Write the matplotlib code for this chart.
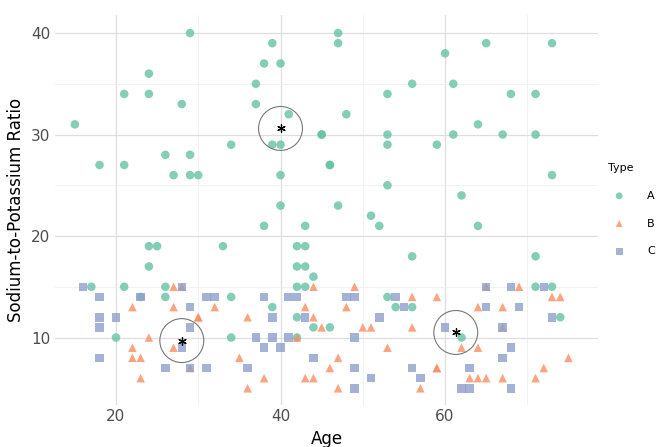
import matplotlib.pyplot as plt

# Type A (circles)
a_age = [29, 39, 38, 40, 24, 37, 21, 24, 28, 37, 15, 41, 45, 34, 39, 40, 26, 29, 18, 21, 46,
         27, 29, 30, 40, 40, 38, 43, 24, 25, 33, 42, 43, 24, 42, 43, 44,
         17, 21, 26, 42, 43, 23, 26, 34, 39, 42, 44, 20, 34, 42,
         47, 47, 65, 73, 60, 56, 61, 53, 68, 71, 48, 64, 45, 53, 61, 67, 71, 53, 59, 46, 73,
         53, 62, 47, 51, 52, 64, 56, 71, 71, 73, 53, 54, 56, 74, 46, 62]
a_val = [40, 39, 37, 37, 36, 35, 34, 34, 33, 33, 31, 32, 30, 29, 29, 29, 28, 28, 27, 27, 27,
         26, 26, 26, 26, 23, 21, 21, 19, 19, 19, 19, 19, 17, 17, 17, 16,
         15, 15, 15, 15, 15, 14, 14, 14, 13, 12, 11, 10, 10, 10,
         40, 39, 39, 39, 38, 35, 35, 34, 34, 34, 32, 31, 30, 30, 30, 30, 30, 29, 29, 27, 26,
         25, 24, 23, 22, 21, 21, 18, 18, 15, 15, 14, 13, 13, 12, 11, 10]

# Type B (triangles)
b_age = [27, 28, 44, 22, 27, 32, 43, 30, 30, 36, 44, 45, 24, 42, 22, 27, 22, 23, 35, 29, 23, 38, 43, 44, 36,
         49, 65, 69, 56, 59, 73, 74, 48, 64, 67, 50, 51, 56, 67, 53, 62, 64, 47, 75, 46, 59, 59, 72,
         63, 64, 65, 67, 71, 47, 57]
b_val = [15, 15, 15, 13, 13, 13, 13, 12, 12, 12, 12, 11, 10, 10, 9, 9, 8, 8, 8, 7, 6, 6, 6, 6, 5,
         15, 15, 15, 14, 14, 14, 14, 13, 13, 13, 11, 11, 11, 11, 9, 9, 9, 8, 8, 7, 7, 7, 7,
         6, 6, 6, 6, 6, 5, 5]

# Type C (squares)
c_age = [16, 28, 18, 23, 31, 32, 38, 41, 42, 29, 18, 20, 39, 43, 18, 29, 37, 39, 41, 28, 38, 40, 18, 44,
         26, 29, 31, 36,
         65, 68, 72, 48, 49, 54, 55, 65, 69, 52, 73, 60, 67, 49, 68, 67, 49, 56, 63, 51, 57, 49, 62, 63, 68]
c_val = [15, 15, 14, 14, 14, 14, 14, 14, 14, 13, 12, 12, 12, 12, 11, 11, 10, 10, 10, 9, 9, 9, 8, 8,
         7, 7, 7, 7,
         15, 15, 15, 14, 14, 14, 13, 13, 13, 12, 12, 11, 11, 10, 9, 8, 7, 7, 7, 6, 6, 5, 5, 5, 5]

# cluster centres marked with a star and a ring
center_age = [40.0, 61.3, 28.0]
center_val = [30.6, 10.5, 9.7]

groups = [('A', a_age, a_val, 'o', '#66c2a5'),
          ('B', b_age, b_val, '^', '#fc8d62'),
          ('C', c_age, c_val, 's', '#8da0cb')]

fig = plt.figure(figsize=(6.72, 4.47), dpi=100)
ax = fig.add_axes([0.082, 0.095, 0.808, 0.872])

for name, x, y, m, col in groups:
    ax.scatter(x, y, marker=m, s=38, color=col, alpha=0.8, edgecolors='none', label=name, zorder=3)

ax.scatter(center_age, center_val, marker='o', s=1000, facecolors='none',
           edgecolors='#777777', linewidths=0.8, zorder=4)
ax.scatter(center_age, center_val, marker=(6, 2, 0), s=30, color='black', linewidths=0.9, zorder=5)

ax.set_xlim(12.6, 78.6)
ax.set_ylim(3.4, 41.8)
ax.set_xticks([20, 40, 60])
ax.set_yticks([10, 20, 30, 40])
ax.set_xticks([30, 50, 70], minor=True)
ax.set_yticks([15, 25, 35], minor=True)
ax.grid(True, which='major', color='#dedede', linewidth=0.9)
ax.grid(True, which='minor', color='#efefef', linewidth=0.6)
ax.tick_params(which='both', length=0, labelsize=11, colors='#4d4d4d')
for s in ax.spines.values():
    s.set_visible(False)
ax.set_xlabel('Age', fontsize=12)
ax.set_ylabel('Sodium-to-Potassium Ratio', fontsize=12)

leg = ax.legend(title='Type', loc='center left', bbox_to_anchor=(1.0, 0.5), frameon=False,
                fontsize=8, title_fontsize=8, markerscale=0.8, handletextpad=1.5, labelspacing=1.6)
leg._legend_box.align = 'left'

fig.savefig('out.png', dpi=100)
